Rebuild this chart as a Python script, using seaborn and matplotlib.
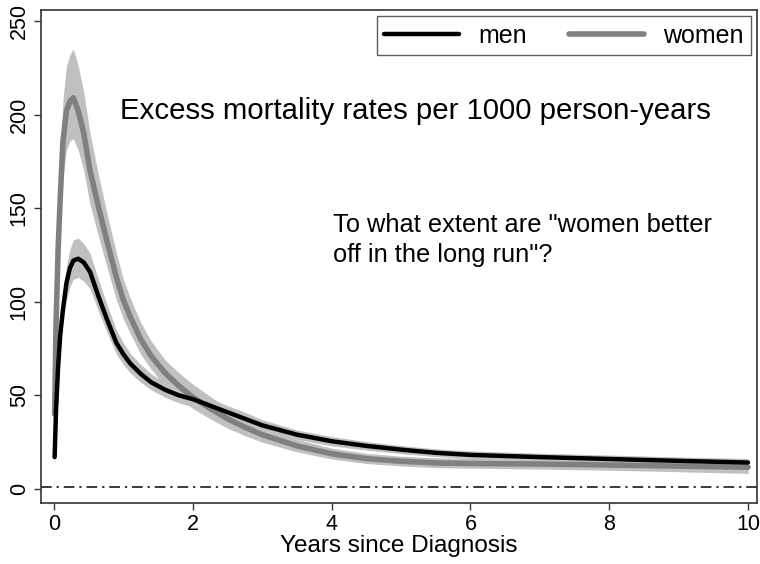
import matplotlib
matplotlib.use("Agg")
import matplotlib.pyplot as plt
import seaborn as sns
import pandas as pd

# time since diagnosis (years)
years = [0.01, 0.03, 0.06, 0.09, 0.13, 0.18, 0.23, 0.28, 0.35, 0.43, 0.52, 0.64,
         0.76, 0.9, 1.0, 1.1, 1.25, 1.4, 1.6, 1.8, 2.0, 2.25, 2.5, 2.75, 3.0, 3.5,
         4.0, 4.5, 5.0, 5.5, 6.0, 7.0, 8.0, 9.0, 10.0]

# excess mortality per 1000 person-years, men
men_rate = [17, 42, 65, 82, 96, 110, 118, 122, 123, 121, 116, 103,
            91, 78, 72, 67, 61.5, 57, 53, 50, 48, 44.5, 41, 37.5, 34, 29,
            25.5, 23, 21, 19.3, 18.2, 17, 16, 15, 14.1]
men_lo = [16, 39, 60, 76, 89, 101, 108, 112, 113, 111, 107, 95,
          84, 72, 66.5, 62, 57, 53, 49, 46, 44, 41, 37.5, 34.5, 31, 26.5,
          23, 20.8, 18.9, 17.3, 16.2, 15, 14, 13, 12]
men_hi = [18, 45, 70, 88, 104, 119, 128, 133, 134, 131, 126, 112,
          99, 85, 78, 72.5, 66.5, 61.5, 57, 54, 52, 48.5, 44.5, 41, 37, 31.5,
          28, 25.3, 23.2, 21.4, 20.3, 19.1, 18.1, 17.1, 16.3]

# excess mortality per 1000 person-years, women
women_rate = [40, 88, 128, 155, 186, 202, 207, 209, 202, 190, 170, 151,
              133, 113, 101, 92, 80, 71, 62, 55, 49, 43, 37.5, 33, 29, 23,
              18.8, 16.2, 14.8, 13.9, 13.6, 13.3, 12.8, 12.2, 11.6]
women_lo = [36, 78, 114, 138, 166, 181, 186, 187, 181, 170, 152, 135,
            119, 101, 91, 83, 72, 64, 55, 48.5, 43, 37.5, 32.5, 28.5, 25, 19.8,
            16, 13.6, 12.3, 11.4, 11.1, 10.6, 10, 9.2, 8.3]
women_hi = [45, 99, 143, 173, 208, 226, 232, 235, 226, 212, 190, 168,
            148, 126, 112, 102, 89, 79, 69, 62, 56, 49.5, 43, 38, 33.5, 26.5,
            21.8, 19, 17.5, 16.6, 16.3, 16.1, 15.8, 15.4, 15]

x_ticks = [0, 2, 4, 6, 8, 10]
y_ticks = [0, 50, 100, 150, 200, 250]

df = pd.DataFrame({"years": years, "men": men_rate, "women": women_rate})

sns.set_style("white")
plt.rcParams['font.family'] = ['Liberation Sans', 'DejaVu Sans']
plt.rcParams['text.color'] = 'black'
plt.rcParams['xtick.color'] = 'black'
plt.rcParams['ytick.color'] = 'black'
plt.rcParams['axes.labelcolor'] = 'black'

fig = plt.figure(figsize=(7.6, 5.64), dpi=100)
ax = fig.add_axes([0.0539, 0.1082, 0.9422, 0.8741])

band = '#c0c0c0'
ax.fill_between(years, women_lo, women_hi, color=band, lw=0, zorder=1)
ax.fill_between(years, men_lo, men_hi, color=band, lw=0, zorder=1)
sns.lineplot(data=df, x="years", y="women", ax=ax, color='#808080', lw=4,
             label='women', zorder=3)
sns.lineplot(data=df, x="years", y="men", ax=ax, color='black', lw=3.2,
             label='men', zorder=4)

ax.axhline(1, color='#3a3a3a', lw=1.4, dashes=(5.5, 2.5, 1.2, 2.5), zorder=2)

ax.set_xlim(-0.187, 10.13)
ax.set_ylim(-7.5, 255.9)
ax.set_xticks(x_ticks)
ax.set_yticks(y_ticks)
ax.set_xticklabels([str(v) for v in x_ticks], fontsize=15.5)
ax.set_yticklabels([str(v) for v in y_ticks], fontsize=15.5, rotation=90, va='center')
ax.tick_params(axis='both', direction='out', length=5, width=1, color='#333333',
               left=True, bottom=True, pad=3)
ax.set_xlabel('Years since Diagnosis', fontsize=17.5, labelpad=0)
ax.set_ylabel('')
for s in ax.spines.values():
    s.set_color('#333333')
    s.set_linewidth(1.2)

ax.text(0.95, 202, 'Excess mortality rates per 1000 person-years',
        fontsize=21.2, va='center', ha='left')
ax.text(4.02, 133, 'To what extent are "women better\noff in the long run"?',
        fontsize=18.3, va='center', ha='left', linespacing=1.32)

handles, labels = ax.get_legend_handles_labels()
order = [labels.index('men'), labels.index('women')]
leg = ax.legend([handles[i] for i in order], [labels[i] for i in order],
                loc='upper right', ncol=2, fontsize=18, frameon=True,
                fancybox=False, edgecolor='#333333', handlelength=3.0,
                handletextpad=0.75, columnspacing=1.7, borderaxespad=0.25,
                borderpad=0.3)
leg.get_frame().set_linewidth(1.0)

fig.savefig('out.png', dpi=100)
